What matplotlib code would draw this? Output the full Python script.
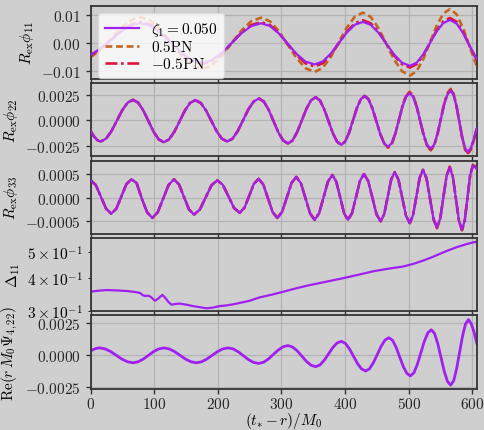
import numpy as np
import matplotlib
matplotlib.use("Agg")
import matplotlib.pyplot as plt

# ---------------- data ----------------
# panel 1: R_ex phi_11  (values in units of 1e-3)
t11 = [0, 13, 26, 39, 52, 65, 78,
       94, 110, 127, 143, 159, 175,
       190.5, 206, 221.5, 237, 252.5, 268,
       282, 296, 310, 324, 338, 352,
       364.7, 377.3, 390, 402.7, 415.3, 428,
       440.3, 452.7, 465, 477.3, 489.7, 502,
       512.5, 523, 533.5, 544, 554.5, 565,
       575.5, 586, 596.5, 607]
phi11_zeta = [-4.2, -2.3, 0.0, 2.5, 4.8, 6.5, 7.2,
              6.2, 3.6, 0.0, -3.5, -6.1, -7.1,
              -6.1, -3.55, 0.0, 3.55, 6.1, 7.1,
              6.12, 3.43, -0.25, -3.93, -6.62, -7.6,
              -6.58, -3.8, 0.0, 3.8, 6.58, 7.6,
              6.55, 3.67, -0.25, -4.18, -7.05, -8.1,
              -7.0, -4.0, 0.1, 4.2, 7.2, 8.3,
              6.97, 3.4, -1.29, -5.63]
phi11_p05 = [-5.0, -2.8, 0.0, 3.2, 6.2, 8.4, 9.3,
             8.06, 4.68, 0.05, -4.58, -7.96, -9.2,
             -7.97, -4.63, -0.05, 4.53, 7.87, 9.1,
             7.8, 4.25, -0.6, -5.45, -9.0, -10.3,
             -8.88, -5.0, 0.3, 5.6, 9.48, 10.9,
             9.39, 5.28, -0.35, -5.98, -10.09, -11.6,
             -10.0, -5.65, 0.3, 6.25, 10.6, 12.2,
             10.3, 5.1, -1.8, -8.1]
phi11_m05 = [-4.4, -2.4, 0.0, 2.6, 5.0, 6.8, 7.6,
             6.59, 3.83, 0.05, -3.73, -6.49, -7.5,
             -6.5, -3.75, 0.0, 3.75, 6.5, 7.5,
             6.44, 3.55, -0.4, -4.35, -7.24, -8.3,
             -7.19, -4.18, -0.05, 4.08, 7.09, 8.2,
             7.07, 3.98, -0.25, -4.48, -7.57, -8.7,
             -7.51, -4.28, 0.15, 4.58, 7.81, 9.0,
             7.6, 3.7, -1.4, -6.0]

# panel 2: R_ex phi_22  (units of 1e-3)
t22 = [0, 5.2, 10.5, 15.7,
       24.2, 32.6, 41.1, 49.6, 58.0, 66.5,
       74.6, 82.7, 90.8, 98.8, 106.9, 115,
       123.2, 131.5, 139.8, 148, 156.2, 164.5,
       172.9, 181.3, 189.7, 198.0, 206.4, 214.8,
       223.1, 231.4, 239.7, 248.0, 256.3, 264.6,
       272.2, 279.8, 287.4, 295.0, 302.6, 310.2,
       317.4, 324.7, 332.0, 339.2, 346.4, 353.7,
       360.4, 367.1, 373.9, 380.6, 387.3, 394,
       400.1, 406.3, 412.4, 418.5, 424.7, 430.8,
       436.9, 443.0, 449.2, 455.3, 461.4, 467.5,
       473.2, 478.9, 484.6, 490.2, 495.9, 501.6,
       507.1, 512.6, 518.1, 523.6, 529.1, 534.6,
       539.8, 545.1, 550.3, 555.5, 560.8, 566,
       570.5, 575, 579.5, 584, 588.5, 593,
       597.7, 602.3, 607]
phi22_zeta = [-1.07, -1.6, -1.97, -2.1,
              -1.82, -1.07, -0.04, 1.0, 1.75, 2.03,
              1.75, 0.98, -0.07, -1.12, -1.89, -2.17,
              -1.89, -1.13, -0.09, 0.96, 1.72, 2.0,
              1.73, 0.98, -0.05, -1.08, -1.83, -2.1,
              -1.81, -1.04, 0.03, 1.1, 1.87, 2.16,
              1.86, 1.05, -0.07, -1.19, -2.0, -2.3,
              -1.99, -1.15, 0.0, 1.14, 1.98, 2.29,
              1.97, 1.11, -0.07, -1.25, -2.11, -2.43,
              -2.1, -1.22, 0.0, 1.21, 2.1, 2.42,
              2.08, 1.16, -0.1, -1.36, -2.28, -2.62,
              -2.27, -1.3, 0.03, 1.36, 2.33, 2.68,
              2.31, 1.31, -0.07, -1.44, -2.44, -2.81,
              -2.42, -1.37, 0.07, 1.5, 2.55, 2.94,
              2.53, 1.42, -0.1, -1.62, -2.73, -3.14,
              -2.75, -1.9, -0.8]
phi22_p05 = [-1.07, -1.6, -1.97, -2.1,
             -1.82, -1.07, -0.04, 1.0, 1.75, 2.03,
             1.75, 0.98, -0.07, -1.12, -1.89, -2.17,
             -1.89, -1.13, -0.09, 0.96, 1.72, 2.0,
             1.73, 0.98, -0.05, -1.08, -1.83, -2.1,
             -1.81, -1.04, 0.03, 1.1, 1.87, 2.16,
             1.86, 1.05, -0.07, -1.19, -2.0, -2.3,
             -1.99, -1.15, 0.0, 1.14, 1.98, 2.29,
             1.97, 1.11, -0.07, -1.25, -2.11, -2.43,
             -2.1, -1.22, 0.0, 1.21, 2.1, 2.42,
             2.08, 1.16, -0.1, -1.36, -2.28, -2.72,
             -2.41, -1.38, 0.03, 1.44, 2.47, 2.84,
             2.45, 1.39, -0.07, -1.53, -2.59, -2.98,
             -2.57, -1.45, 0.07, 1.59, 2.70, 3.12,
             2.68, 1.51, -0.11, -1.72, -2.89, -3.33,
             -2.92, -2.01, -0.85]
phi22_m05 = [-1.07, -1.6, -1.97, -2.1,
             -1.82, -1.07, -0.04, 1.0, 1.75, 2.03,
             1.75, 0.98, -0.07, -1.12, -1.89, -2.17,
             -1.89, -1.13, -0.09, 0.96, 1.72, 2.0,
             1.73, 0.98, -0.05, -1.08, -1.83, -2.1,
             -1.81, -1.04, 0.03, 1.1, 1.87, 2.16,
             1.86, 1.05, -0.07, -1.19, -2.0, -2.3,
             -1.99, -1.15, 0.0, 1.14, 1.98, 2.29,
             1.97, 1.11, -0.07, -1.25, -2.11, -2.43,
             -2.1, -1.22, 0.0, 1.21, 2.1, 2.42,
             2.08, 1.16, -0.1, -1.36, -2.28, -2.67,
             -2.34, -1.34, 0.03, 1.40, 2.40, 2.76,
             2.38, 1.35, -0.07, -1.48, -2.51, -2.89,
             -2.49, -1.41, 0.07, 1.55, 2.63, 3.03,
             2.61, 1.46, -0.10, -1.67, -2.81, -3.23,
             -2.83, -1.96, -0.82]

# panel 3: R_ex phi_33  (units of 1e-4)
t33 = [0, 8.1, 16.2, 24.3, 32.4,
       40.3, 48.2, 56.0, 63.9,
       72.2, 80.4, 88.7, 96.9,
       105.4, 113.9, 122.5, 131,
       138.9, 146.7, 154.6, 162.4,
       171.6, 180.8, 189.9, 199.1,
       207.9, 216.7, 225.4, 234.2,
       241.7, 249.2, 256.6, 264.1,
       271.4, 278.8, 286.1, 293.4,
       300.9, 308.4, 315.8, 323.3,
       330.5, 337.8, 345.0, 352.2,
       359.1, 366.1, 373.0, 379.9,
       386.1, 392.3, 398.4, 404.6,
       410.9, 417.2, 423.4, 429.7,
       436.3, 442.9, 449.4, 456,
       461.5, 467.0, 472.5, 478,
       483.9, 489.8, 495.7, 501.6,
       506.8, 512.1, 517.3, 522.5,
       528.0, 533.5, 539.0, 544.5,
       549.5, 554.5, 559.5, 564.5,
       569.3, 574.2, 579.0, 583.8,
       588.1, 592.4, 596.7, 601,
       604, 607]
phi33_zeta = [3.7, 2.66, 0.15, -2.36, -3.4,
              -2.33, 0.25, 2.83, 3.9,
              3.1, -0.2, -3.10, -4.3,
              -3.10, -0.2, 2.70, 3.9,
              2.80, 0.15, -2.50, -3.6,
              -2.53, 0.05, 2.63, 3.7,
              2.69, 0.25, -2.19, -3.2,
              -2.15, 0.4, 2.95, 4.0,
              2.78, -0.15, -3.08, -4.3,
              -3.03, 0.05, 3.13, 4.4,
              3.07, -0.15, -3.37, -4.7,
              -3.31, 0.05, 3.41, 4.8,
              3.41, 0.05, -3.31, -4.7,
              -3.28, 0.15, 3.58, 5.0,
              3.54, 0.0, -3.54, -5.0,
              -3.48, 0.2, 3.88, 5.4,
              3.82, 0.0, -3.82, -5.4,
              -3.74, 0.25, 4.24, 5.9,
              4.11, -0.2, -4.51, -6.3,
              -4.44, 0.05, 4.54, 6.4,
              4.47, -0.2, -4.87, -6.8,
              -4.81, 0.0, 4.81, 6.8,
              6.6, 6.0]
phi33_p05 = [3.7, 2.66, 0.15, -2.36, -3.4,
             -2.33, 0.25, 2.83, 3.9,
             3.1, -0.2, -3.10, -4.3,
             -3.10, -0.2, 2.70, 3.9,
             2.80, 0.15, -2.50, -3.6,
             -2.53, 0.05, 2.63, 3.7,
             2.69, 0.25, -2.19, -3.2,
             -2.15, 0.4, 2.95, 4.0,
             2.78, -0.15, -3.08, -4.3,
             -3.03, 0.05, 3.13, 4.4,
             3.07, -0.15, -3.37, -4.7,
             -3.31, 0.05, 3.41, 4.8,
             3.41, 0.05, -3.31, -4.7,
             -3.28, 0.15, 3.58, 5.0,
             3.54, 0.0, -3.54, -5.0,
             -3.48, 0.2, 3.88, 5.4,
             3.82, 0.0, -3.82, -5.4,
             -3.74, 0.25, 4.24, 5.9,
             4.11, -0.2, -4.6, -6.5,
             -4.59, 0.05, 4.66, 6.6,
             4.6, -0.2, -4.95, -6.9,
             -4.9, 0.0, 4.9, 6.9,
             7.2, 7.0]
phi33_m05 = [3.7, 2.66, 0.15, -2.36, -3.4,
             -2.33, 0.25, 2.83, 3.9,
             3.1, -0.2, -3.10, -4.3,
             -3.10, -0.2, 2.70, 3.9,
             2.80, 0.15, -2.50, -3.6,
             -2.53, 0.05, 2.63, 3.7,
             2.69, 0.25, -2.19, -3.2,
             -2.15, 0.4, 2.95, 4.0,
             2.78, -0.15, -3.08, -4.3,
             -3.03, 0.05, 3.13, 4.4,
             3.07, -0.15, -3.37, -4.7,
             -3.31, 0.05, 3.41, 4.8,
             3.41, 0.05, -3.31, -4.7,
             -3.28, 0.15, 3.58, 5.0,
             3.54, 0.0, -3.54, -5.0,
             -3.48, 0.2, 3.88, 5.4,
             3.82, 0.0, -3.82, -5.4,
             -3.74, 0.25, 4.24, 5.9,
             4.11, -0.2, -4.55, -6.4,
             -4.5, 0.05, 4.6, 6.5,
             4.55, -0.2, -4.9, -6.9,
             -4.85, 0.0, 4.85, 6.9,
             6.7, 6.2]

# panel 4: Delta_11 (log scale)
t_delta = [0, 12, 25, 40, 57, 70, 77.5, 82, 86, 90, 94, 101, 106, 110, 113,
           117, 122, 127, 134, 140, 150, 161, 172, 182, 192, 203, 214, 224,
           235, 250, 266, 285, 303, 320, 340, 365, 392, 418, 444, 468, 491,
           508, 523, 536, 549, 562, 575, 590, 600, 607]
delta11 = [0.354, 0.357, 0.359, 0.358, 0.356, 0.353, 0.350, 0.343, 0.341,
           0.342, 0.339, 0.327, 0.333, 0.340, 0.344, 0.336, 0.324, 0.316,
           0.318, 0.319, 0.316, 0.312, 0.309, 0.306, 0.308, 0.312, 0.314,
           0.317, 0.321, 0.327, 0.337, 0.345, 0.354, 0.363, 0.373, 0.384,
           0.396, 0.409, 0.423, 0.433, 0.441, 0.452, 0.465, 0.478, 0.493,
           0.508, 0.522, 0.536, 0.544, 0.548]

# panel 5: Re(r M0 Psi_4,22)  (units of 1e-3)
t_psi = [0, 4.7, 9.4, 14.1,
         22.8, 31.6, 40.3, 49.0, 57.8, 66.5,
         74.6, 82.7, 90.8, 98.8, 106.9, 115,
         123.5, 132, 140.5, 149, 157.5, 166,
         174.3, 182.6, 191.0, 199.3, 207.6, 215.9,
         223.9, 232.0, 240.0, 248.0, 256.1, 264.1,
         271.8, 279.5, 287.2, 294.8, 302.5, 310.2,
         317.4, 324.7, 332.0, 339.2, 346.4, 353.7,
         360.4, 367.1, 373.9, 380.6, 387.3, 394,
         400.4, 406.8, 413.2, 419.5, 425.9, 432.3,
         438.4, 444.5, 450.7, 456.8, 462.9, 469,
         474.6, 480.2, 485.8, 491.4, 497.0, 502.6,
         508.1, 513.6, 519.1, 524.6, 530.1, 535.6,
         540.7, 545.7, 550.8, 555.9, 560.9, 566,
         570.7, 575.3, 580.0, 584.7, 589.3, 594,
         598.3, 602.7, 607]
psi4_22 = [0.34, 0.46, 0.54, 0.57,
           0.49, 0.28, -0.01, -0.30, -0.51, -0.59,
           -0.51, -0.30, -0.01, 0.28, 0.49, 0.57,
           0.49, 0.28, -0.01, -0.30, -0.51, -0.59,
           -0.51, -0.30, -0.01, 0.28, 0.49, 0.57,
           0.49, 0.27, -0.04, -0.34, -0.56, -0.64,
           -0.55, -0.29, 0.06, 0.40, 0.66, 0.75,
           0.64, 0.34, -0.07, -0.48, -0.78, -0.89,
           -0.76, -0.40, 0.10, 0.59, 0.95, 1.08,
           0.92, 0.50, -0.08, -0.65, -1.07, -1.23,
           -1.06, -0.58, 0.07, 0.71, 1.19, 1.36,
           1.16, 0.62, -0.13, -0.87, -1.41, -1.61,
           -1.37, -0.71, 0.19, 1.08, 1.74, 1.98,
           1.69, 0.90, -0.18, -1.25, -2.04, -2.33,
           -1.99, -1.06, 0.22, 1.50, 2.43, 2.77,
           2.45, 1.8, 0.95]

labels = [r"$\zeta_1 = 0.050$", "0.5PN", r"$-0.5$PN"]
x_ticks = [0, 100, 200, 300, 400, 500, 600]

# ---------------- style ----------------
BG = "#cfcfcf"
plt.rcParams.update({
    "font.family": "serif",
    "font.serif": ["cmr10", "DejaVu Serif"],
    "mathtext.fontset": "cm",
    "axes.formatter.use_mathtext": True,
    "font.size": 11,
    "axes.unicode_minus": True,
})

C_Z = "#a020f0"
C_P = "#c4661f"
C_M = "#dc143c"

fig, axes = plt.subplots(5, 1, sharex=True, figsize=(4.85, 4.31), dpi=100,
                         facecolor=BG)
fig.subplots_adjust(left=0.187, right=0.983, top=0.9845, bottom=0.096,
                    hspace=0.057)

def style(ax):
    ax.set_facecolor(BG)
    for s in ax.spines.values():
        s.set_linewidth(1.3)
        s.set_color("0.2")
    ax.tick_params(direction="out", length=3.5, width=1.0, color="0.2",
                   labelcolor="0.15", labelsize=11)
    ax.tick_params(axis="x", pad=2)
    ax.grid(True, color="#b3b3b3", linewidth=0.9)
    ax.set_axisbelow(True)

def tri(ax, t, z, p, m, scale):
    ax.plot(t, np.array(p) * scale, color=C_P, lw=1.9,
            linestyle=(0, (2.6, 1.4)), zorder=2, label=labels[1])
    ax.plot(t, np.array(m) * scale, color=C_M, lw=1.9,
            linestyle=(0, (4.5, 1.4, 1.0, 1.4)), zorder=2.5, label=labels[2])
    ax.plot(t, np.array(z) * scale, color=C_Z, lw=1.6, zorder=3,
            label=labels[0])

ax1, ax2, ax3, ax4, ax5 = axes
for ax in axes:
    style(ax)

tri(ax1, t11, phi11_zeta, phi11_p05, phi11_m05, 1e-3)
ax1.set_ylim(-0.0128, 0.0134)
ax1.set_yticks([-0.01, 0.0, 0.01])
ax1.set_ylabel(r"$R_{\rm ex}\phi_{11}$")
h, l = ax1.get_legend_handles_labels()
order = [2, 0, 1]
ax1.legend([h[i] for i in order], [l[i] for i in order], loc="upper left",
           fontsize=11, labelspacing=0.15, handlelength=2.2,
           borderpad=0.45, framealpha=0.8, facecolor="white",
           edgecolor="0.85", fancybox=True)

tri(ax2, t22, phi22_zeta, phi22_p05, phi22_m05, 1e-3)
ax2.set_ylim(-0.00357, 0.00369)
ax2.set_yticks([-0.0025, 0.0, 0.0025])
ax2.set_ylabel(r"$R_{\rm ex}\phi_{22}$")

tri(ax3, t33, phi33_zeta, phi33_p05, phi33_m05, 1e-4)
ax3.set_ylim(-0.000766, 0.000788)
ax3.set_yticks([-0.0005, 0.0, 0.0005])
ax3.set_ylabel(r"$R_{\rm ex}\phi_{33}$")

ax4.plot(t_delta, delta11, color=C_Z, lw=1.6)
ax4.set_yscale("log")
ax4.set_ylim(0.2984, 0.5665)
ax4.set_ylabel(r"$\Delta_{11}$")

ax5.plot(t_psi, np.array(psi4_22) * 1e-3, color=C_Z, lw=2.0)
ax5.set_ylim(-0.0026, 0.0031)
ax5.set_yticks([-0.0025, 0.0, 0.0025])
ax5.set_ylabel(r"${\rm Re}(r\,M_0\Psi_{4,22})$")

ax5.set_xlim(0, 607)
ax5.set_xticks(x_ticks)
ax5.set_xlabel(r"$(t_{*}-r)/M_0$", labelpad=-1)

fig.savefig("out.png", dpi=100, facecolor=BG)
